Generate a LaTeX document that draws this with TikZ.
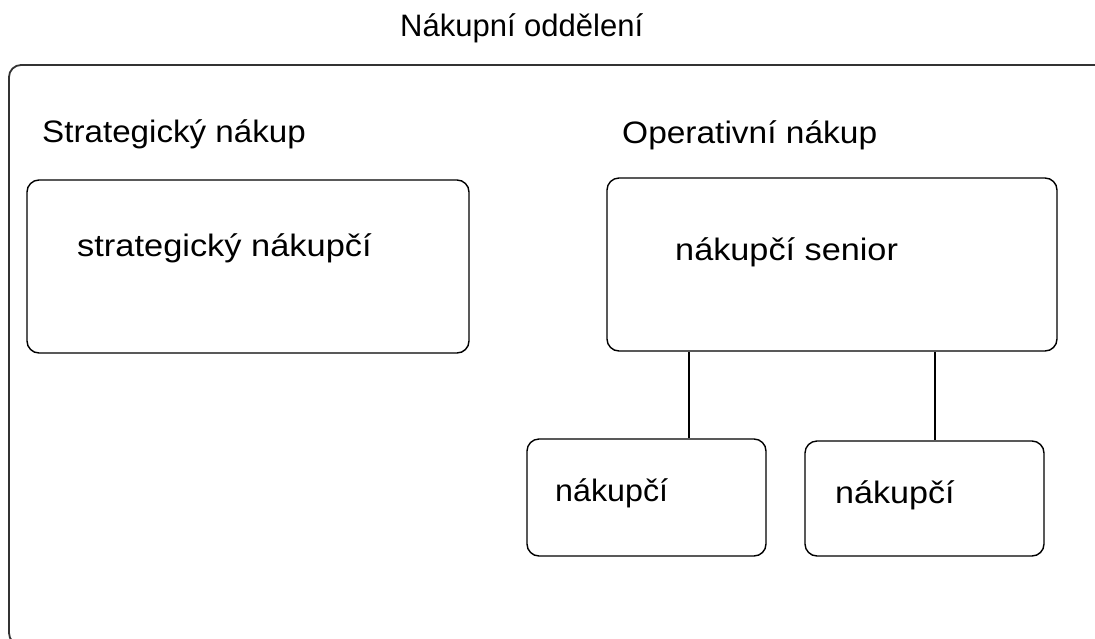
\documentclass[tikz,border=0pt]{standalone}
\usepackage{fontspec}
\setmainfont{Liberation Sans}
\begin{document}
\begin{tikzpicture}[x=1pt,y=-1pt,
  outerbox/.style={draw=black!80,line width=1.8pt,rounded corners=12pt},
  unitbox/.style={draw=black,line width=1.4pt,rounded corners=12pt,inner sep=0pt},
  lbl/.style={anchor=base west,inner sep=0pt,font=\fontsize{31}{36}\selectfont},
  link/.style={draw=black,line width=1.4pt}]
\useasboundingbox (0,0) rectangle (1095,638);
\begin{scope}
\clip (0,0) rectangle (1095,638);
\draw[outerbox] (9,65) rectangle (1120,645);
\end{scope}
% boxes
\node[unitbox,minimum width=442pt,minimum height=173pt] (strat) at (248,266.5) {};
\node[unitbox,minimum width=450pt,minimum height=173pt] (senior) at (832,264.5) {};
\node[unitbox,minimum width=239pt,minimum height=117pt] (n1) at (646.5,497.5) {};
\node[unitbox,minimum width=239pt,minimum height=115pt] (n2) at (924.5,498.5) {};
% texts
\node[lbl] (title) at (400,36) {\scalebox{1.0}[1]{Nákupní oddělení}};
\node[lbl] (tstrat) at (42,142) {\scalebox{1.07}[1]{Strategický nákup}};
\node[lbl] (toper) at (622,143.5) {\scalebox{1.08}[1]{Operativní nákup}};
\node[lbl] (tsn) at (77,256) {\scalebox{1.11}[1]{strategický nákupčí}};
\node[lbl] (tsen) at (675,260) {\scalebox{1.105}[1]{nákupčí senior}};
\node[lbl] (tn1) at (555,501) {\scalebox{1.04}[1]{nákupčí}};
\node[lbl] (tn2) at (835,503) {\scalebox{1.10}[1]{nákupčí}};
% connectors
\coordinate (c1) at (689,0);
\coordinate (c2) at (935,0);
\draw[link] (senior.south -| c1) -- (n1.north -| c1);
\draw[link] (senior.south -| c2) -- (n2.north -| c2);
\end{tikzpicture}
\end{document}
